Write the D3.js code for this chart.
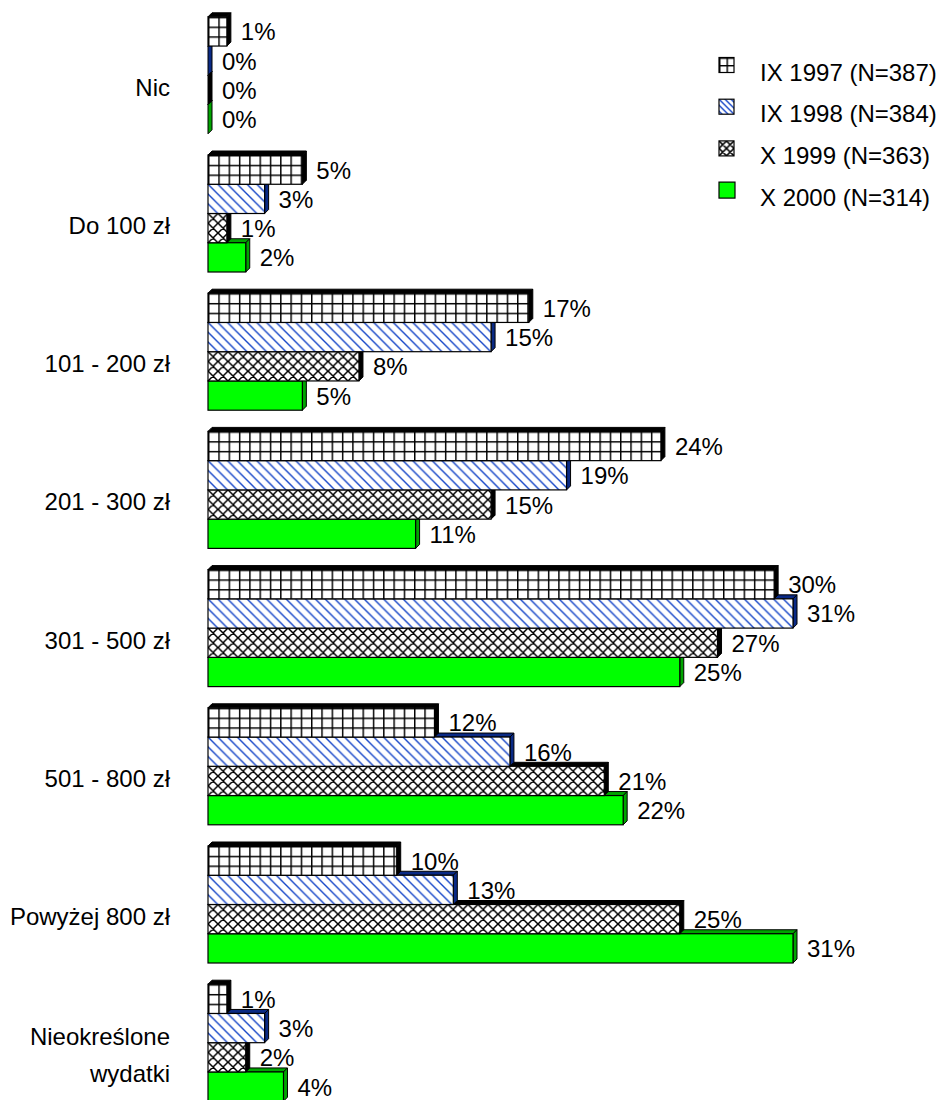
<!DOCTYPE html>
<html><head><meta charset="utf-8">
<script src="https://cdn.jsdelivr.net/npm/d3@7"></script>
<style>
body{margin:0;background:#fff}
svg{display:block}
text{font-family:"Liberation Sans",Arial,sans-serif;font-size:24px;fill:#000}
</style>
</head><body><svg id="c" width="940" height="1100"></svg>
<script>
// ---- data ----
const categories = ["Nic", "Do 100 zł", "101 - 200 zł", "201 - 300 zł", "301 - 500 zł", "501 - 800 zł", "Powyżej 800 zł", "Nieokreślone\nwydatki"];
const seriesNames = ["IX 1997 (N=387)", "IX 1998 (N=384)", "X 1999 (N=363)", "X 2000 (N=314)"];
const values1997 = [1, 5, 17, 24, 30, 12, 10, 1];
const values1998 = [0, 3, 15, 19, 31, 16, 13, 3];
const values1999 = [0, 1, 8, 15, 27, 21, 25, 2];
const values2000 = [0, 2, 5, 11, 25, 22, 31, 4];
const seriesValues = [values1997, values1998, values1999, values2000];

// ---- layout ----
const svg = d3.select("#c");
const x = d3.scaleLinear().domain([0, 31]).range([208, 793]);
const y = d3.scaleBand().domain(categories).range([6.2, 1111.8]).paddingInner(0.1534).paddingOuter(0.0767);
const ys = d3.scaleBand().domain(d3.range(seriesNames.length)).range([0, y.bandwidth()]);
const bh = ys.bandwidth();
const depth = 4;
const styles = [
  {kind: "grid", face: "#000000"},
  {kind: "hatch", face: "#0a2a85"},
  {kind: "cross", face: "#000000"},
  {kind: "solid", fill: "#00ff00", face: "#00a400"}
];
const defs = svg.append("defs");
let pid = 0;
function fillFor(kind, ox, oy, cellW, cellH) {
  if (kind === "solid") return styles[3].fill;
  const id = "p" + (pid++);
  const w = kind === "hatch" ? cellH : cellW, h = cellH;
  const p = defs.append("pattern").attr("id", id).attr("patternUnits", "userSpaceOnUse")
    .attr("x", ox).attr("y", oy).attr("width", w).attr("height", h);
  p.append("rect").attr("width", w).attr("height", h).attr("fill", "#fff");
  if (kind === "grid") {
    p.append("path").attr("d", `M0,0.7H${w}M0.7,0V${h}`).attr("stroke", "#000").attr("stroke-width", 1.5).attr("fill", "none");
  } else if (kind === "hatch") {
    p.append("path").attr("d", `M0,0L${w},${h}M-2,${h-2}L2,${h+2}M${w-2},-2L${w+2},2`)
      .attr("stroke", "#1646c8").attr("stroke-width", 1.4).attr("fill", "none");
  } else {
    p.append("path").attr("d", `M0,0L${w},${h}M${w},0L0,${h}M-2,${h-2}L2,${h+2}M${w-2},-2L${w+2},2M-2,2L2,-2M${w-2},${h+2}L${w+2},${h-2}`)
      .attr("stroke", "#000").attr("stroke-width", 1.5).attr("fill", "none");
  }
  return `url(#${id})`;
}

const bars = svg.append("g");
categories.forEach((cat, ci) => {
  for (let si = seriesNames.length - 1; si >= 0; si--) {
    const v = seriesValues[si][ci];
    const x0 = x(0), x1 = x(v);
    const y0 = y(cat) + ys(si), y1 = y0 + bh;
    const st = styles[si];
    const g = bars.append("g");
    g.append("path").attr("d", `M${x0},${y0}L${x0+depth},${y0-depth}L${x1+depth},${y0-depth}L${x1},${y0}Z`)
      .attr("fill", st.face).attr("stroke", "#000").attr("stroke-width", 1);
    g.append("path").attr("d", `M${x1},${y0}L${x1+depth},${y0-depth}L${x1+depth},${y1-depth}L${x1},${y1}Z`)
      .attr("fill", st.face).attr("stroke", "#000").attr("stroke-width", 1);
    g.append("rect").attr("x", x0).attr("y", y0).attr("width", Math.max(0, x1 - x0)).attr("height", bh)
      .attr("fill", fillFor(st.kind, x0, y0, st.kind === "grid" ? 10.3 : 10, bh / 3))
      .attr("stroke", "#000").attr("stroke-width", 1.2);
  }
});

// value labels
const labels = svg.append("g");
categories.forEach((cat, ci) => {
  seriesValues.forEach((vals, si) => {
    const v = vals[ci];
    labels.append("text").attr("x", x(v) + 14).attr("y", y(cat) + ys(si) + bh / 2 + 9).text(v + "%");
  });
});

// category labels
const catG = svg.append("g");
categories.forEach(cat => {
  const lines = cat.split("\n");
  const c = y(cat) + y.bandwidth() / 2;
  lines.forEach((ln, i) => {
    catG.append("text").attr("text-anchor", "end").attr("x", 170)
      .attr("y", c + 20.5 + (i - (lines.length - 1) / 2) * 37).text(ln);
  });
});

// legend
const leg = svg.append("g");
seriesNames.forEach((name, i) => {
  const cy = 72 + i * 41.7;
  const st = styles[i];
  const s = st.kind === "solid" ? 16 : 15;
  const ix = 719, iy = cy - 7 - s / 2;
  const cell = st.kind === "hatch" ? 6 : 7.5;
  leg.append("rect").attr("x", ix).attr("y", iy).attr("width", s).attr("height", s)
    .attr("fill", fillFor(st.kind, ix, iy, cell, cell))
    .attr("stroke", "#000").attr("stroke-width", 1.2);
  leg.append("text").attr("x", 760).attr("y", cy + 8.5).text(name);
});
</script>
</body></html>
